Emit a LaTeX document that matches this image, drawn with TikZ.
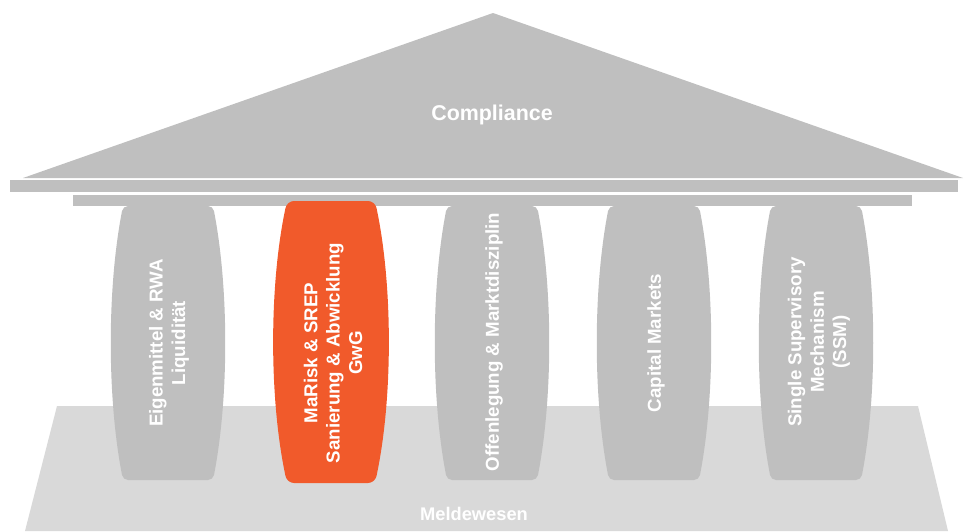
\documentclass[tikz,border=0pt]{standalone}
\usepackage{fontspec}
\setmainfont{Liberation Sans}
\definecolor{pgray}{RGB}{191,191,191}
\definecolor{plight}{RGB}{217,217,217}
\definecolor{porange}{RGB}{241,90,43}
\tikzset{
  ptext/.style={text=white,font=\fontsize{18.7}{22.4}\selectfont\bfseries,align=center,rotate=90,inner sep=0pt},
  bigtext/.style={text=white,font=\fontsize{21.4}{25}\selectfont\bfseries,inner sep=0pt},
  basetext/.style={text=white,font=\fontsize{18.3}{22}\selectfont\bfseries,inner sep=0pt},
}
\newcommand{\pillar}[4]{% cx, top, bottom, color
  \fill[#4,rounded corners=5pt] ({#1-45},#2) .. controls ({#1-61},{#2+0.3*(#3-#2)}) and ({#1-61},{#2+0.7*(#3-#2)}) .. ({#1-45},#3)
    -- ({#1+45},#3) .. controls ({#1+61},{#2+0.7*(#3-#2)}) and ({#1+61},{#2+0.3*(#3-#2)}) .. ({#1+45},#2) -- cycle;
}
\begin{document}
\begin{tikzpicture}[x=1pt,y=-1pt]
\useasboundingbox (0,0) rectangle (966,531);
% base
\fill[plight] (57,406) -- (918,406) -- (948,531) -- (25,531) -- cycle;
\node[basetext] (meld) at (474,514) {Meldewesen};
% gray pillars
\pillar{168}{206}{480}{pgray}
\pillar{492}{206}{480}{pgray}
\pillar{654}{206}{480}{pgray}
\pillar{816}{206}{480}{pgray}
% beams
\fill[pgray] (10,180) rectangle (958,192);
\fill[pgray] (73,194.5) rectangle (912,206);
% roof
\fill[pgray] (493,13) -- (963,178) -- (23,178) -- cycle;
\node[bigtext] (comp) at (492,115) {Compliance};
% orange pillar
\fill[porange,rounded corners=7pt] (287,201) .. controls (269,285) and (269,399) .. (287,483)
  -- (375,483) .. controls (393,399) and (393,285) .. (375,201) -- cycle;
% pillar texts
\node[ptext] (p1) at (169,343) {Eigenmittel \& RWA\\Liquidität};
\node[ptext] (p2) at (333,353) {MaRisk \& SREP\\Sanierung \& Abwicklung\\GwG};
\node[ptext] (p3) at (494,342) {Offenlegung \& Marktdisziplin};
\node[ptext] (p4) at (656,343) {Capital Markets};
\node[ptext] (p5) at (819,342) {Single Supervisory\\Mechanism\\(SSM)};
\end{tikzpicture}
\end{document}
